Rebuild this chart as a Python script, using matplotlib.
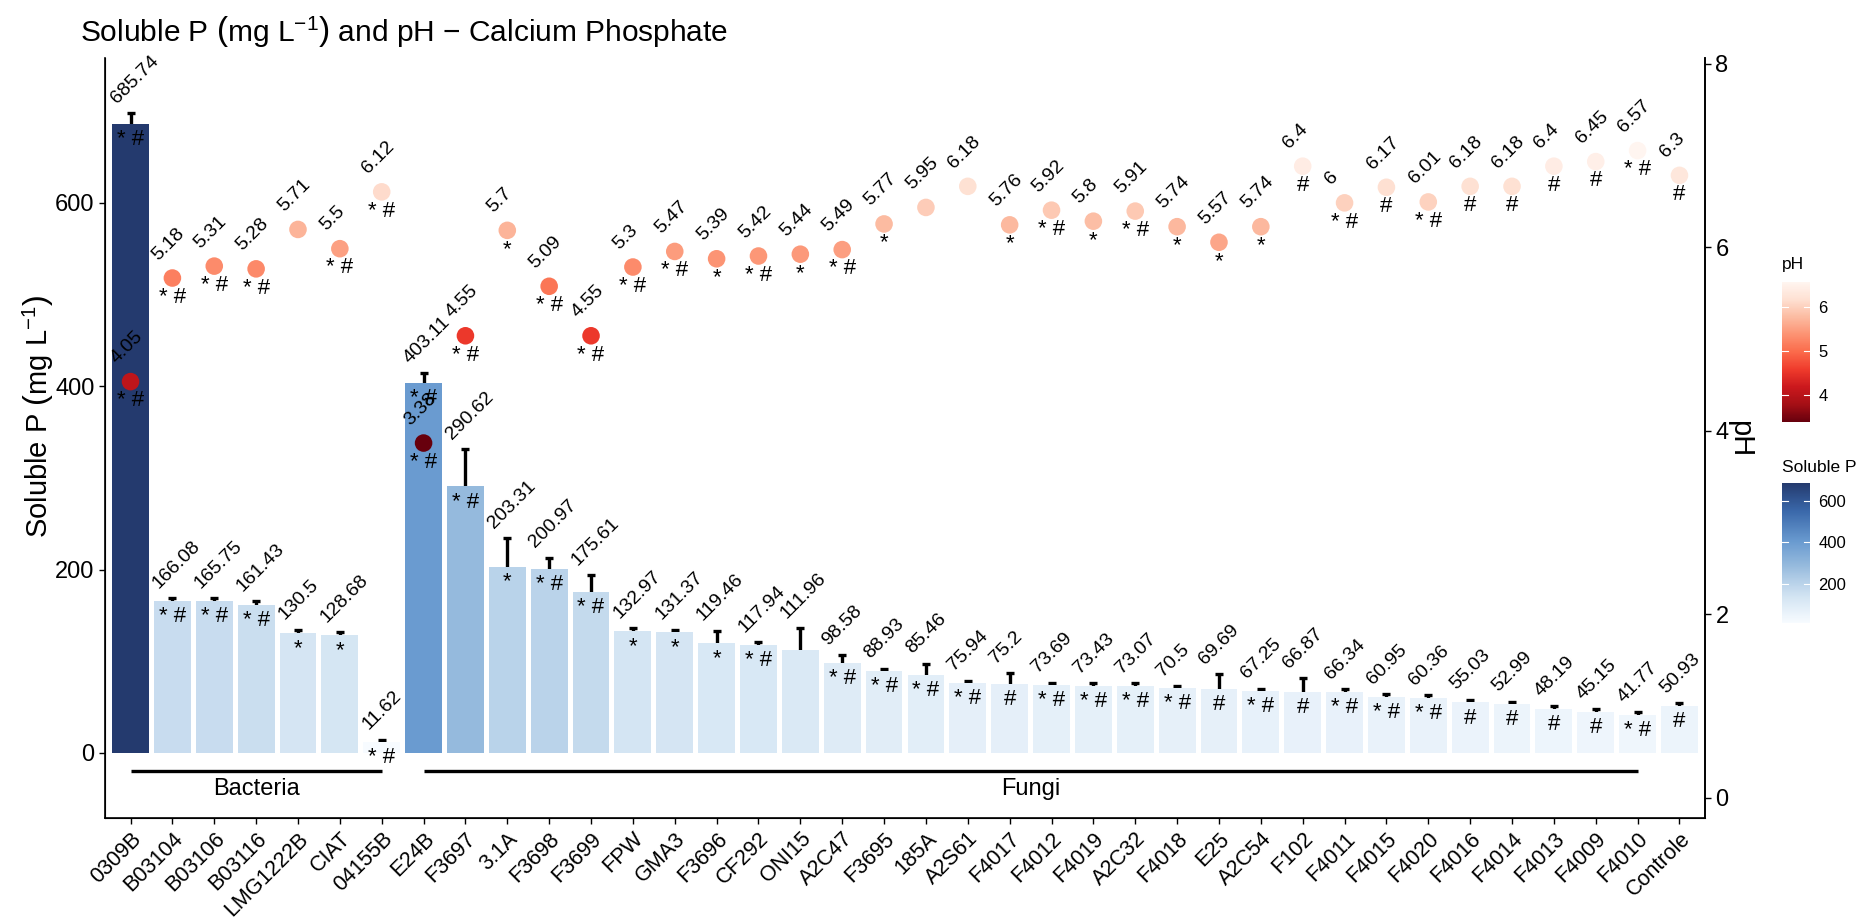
import numpy as np
import matplotlib
matplotlib.use("Agg")
import matplotlib.pyplot as plt
from matplotlib.colors import Normalize, LinearSegmentedColormap
from matplotlib.cm import ScalarMappable

plt.rcParams["font.family"] = ["Liberation Sans", "DejaVu Sans"]
plt.rcParams["mathtext.fontset"] = "custom"
plt.rcParams["mathtext.rm"] = "Liberation Sans"
plt.rcParams["mathtext.it"] = "Liberation Sans:italic"

strains = ["0309B", "B03104", "B03106", "B03116", "LMG1222B", "CIAT", "04155B",
           "E24B", "F3697", "3.1A", "F3698", "F3699", "FPW", "GMA3", "F3696",
           "CF292", "ONI15", "A2C47", "F3695", "185A", "A2S61", "F4017", "F4012",
           "F4019", "A2C32", "F4018", "E25", "A2C54", "F102", "F4011", "F4015",
           "F4020", "F4016", "F4014", "F4013", "F4009", "F4010", "Controle"]

soluble_p = [685.74, 166.08, 165.75, 161.43, 130.5, 128.68, 11.62,
             403.11, 290.62, 203.31, 200.97, 175.61, 132.97, 131.37, 119.46,
             117.94, 111.96, 98.58, 88.93, 85.46, 75.94, 75.2, 73.69,
             73.43, 73.07, 70.5, 69.69, 67.25, 66.87, 66.34, 60.95,
             60.36, 55.03, 52.99, 48.19, 45.15, 41.77, 50.93]

# standard deviations
soluble_p_sd = [12, 3, 3, 4, 4, 3, 3,
                11, 41, 31, 12, 18, 3, 3, 14,
                3, 24, 8, 3, 12, 3, 12, 3,
                3, 3, 2, 16, 3, 15, 3, 3,
                3, 3, 3, 3, 3, 3, 3]

ph = [4.05, 5.18, 5.31, 5.28, 5.71, 5.5, 6.12,
      3.38, 4.55, 5.7, 5.09, 4.55, 5.3, 5.47, 5.39,
      5.42, 5.44, 5.49, 5.77, 5.95, 6.18, 5.76, 5.92,
      5.8, 5.91, 5.74, 5.57, 5.74, 6.4, 6, 6.17,
      6.01, 6.18, 6.18, 6.4, 6.45, 6.57, 6.3]

p_flags = ["* #", "* #", "* #", "* #", "*", "*", "* #",
           "* #", "* #", "*", "* #", "* #", "*", "*", "*",
           "* #", "", "* #", "* #", "* #", "* #", "#", "* #",
           "* #", "* #", "* #", "#", "* #", "#", "* #", "* #",
           "* #", "#", "#", "#", "#", "* #", "#"]

ph_flags = ["* #", "* #", "* #", "* #", "", "* #", "* #",
            "* #", "* #", "*", "* #", "* #", "* #", "* #", "*",
            "* #", "*", "* #", "*", "", "", "*", "* #",
            "*", "* #", "*", "*", "*", "#", "* #", "#",
            "* #", "#", "#", "#", "#", "* #", "#"]

groups = [("Bacteria", "0309B", "04155B"), ("Fungi", "E24B", "F4010")]

W, H = 1870, 923
fig = plt.figure(figsize=(W / 100, H / 100), dpi=100)
ax = fig.add_axes([105 / W, 1 - 818 / H, 1600 / W, 760 / H])

x = np.arange(len(strains))
p = np.array(soluble_p)
sd = np.array(soluble_p_sd)
phv = np.array(ph)

p_norm = Normalize(min(soluble_p), max(soluble_p))
ph_norm = Normalize(min(ph), max(ph))
# muted blue gradient like the ggplot fill scale
blues = LinearSegmentedColormap.from_list(
    "sol_p", [(0.0, "#f7fbff"), (0.18, "#d4e5f3"), (0.28, "#bad3ea"),
              (0.42, "#93b8dc"), (0.58, "#6a9bd0"), (0.8, "#3a68aa"),
              (1.0, "#243a6e")])
reds = plt.get_cmap("Reds_r")

ax.errorbar(x, p, yerr=sd, fmt="none", ecolor="black", elinewidth=2.4,
            capsize=3, capthick=2.4, zorder=1)
ax.bar(x, p, width=0.88, color=blues(p_norm(p)), zorder=2)
ax.scatter(x, phv * 100, s=160, c=phv, cmap=reds, norm=ph_norm,
           edgecolors="none", zorder=4)

for i in range(len(strains)):
    ax.text(x[i] - 0.26, p[i] + sd[i] + 7, f"{p[i]:g}", rotation=45,
            rotation_mode="anchor", ha="left", va="bottom", fontsize=14, zorder=5)
    if p_flags[i]:
        ax.text(x[i], p[i] - 17, p_flags[i], ha="center", va="center",
                fontsize=16, zorder=5)
    ax.text(x[i] - 0.26, phv[i] * 100 + 16, f"{phv[i]:g}", rotation=45,
            rotation_mode="anchor", ha="left", va="bottom", fontsize=14, zorder=5)
    if ph_flags[i]:
        ax.text(x[i], phv[i] * 100 - 21, ph_flags[i], ha="center", va="center",
                fontsize=16, zorder=5)

for name, first, last in groups:
    a, b = strains.index(first), strains.index(last)
    ax.plot([a, b], [-20, -20], color="black", lw=2.4, solid_capstyle="butt")
    ax.text((a + b) / 2, -39, name, ha="center", va="center", fontsize=17)

ax.set_xlim(-0.61, 37.61)
ax.set_ylim(-71, 758)
ax.set_yticks([0, 200, 400, 600])
ax.set_xticks(x)
ax.set_xticklabels(strains, rotation=45, ha="right", rotation_mode="anchor", fontsize=15.5)
ax.tick_params(axis="y", labelsize=17, length=4, width=1)
ax.tick_params(axis="x", length=4, width=1)
ax.spines["top"].set_visible(False)
for s in ("left", "bottom", "right"):
    ax.spines[s].set_linewidth(1.2)

ax2 = ax.twinx()
ax2.set_ylim(-0.218, 8.06)
ax2.set_yticks([0, 2, 4, 6, 8])
ax2.tick_params(axis="y", labelsize=17, length=4, width=1)
ax2.spines["top"].set_visible(False)
ax2.spines["right"].set_linewidth(1.2)

fig.text(80 / W, 1 - 32 / H,
         r"Soluble P $\left(\mathrm{mg\ L^{-1}}\right)$ and pH − Calcium Phosphate",
         ha="left", va="center", fontsize=21.5)
fig.text(38 / W, 1 - 416 / H, r"Soluble P $\left(\mathrm{mg\ L^{-1}}\right)$",
         rotation=90, ha="center", va="center", fontsize=21)
fig.text(1740 / W, 1 - 439 / H, "pH", rotation=270, ha="center", va="center", fontsize=21)

# colour bar legends
legends = [("pH", reds, ph_norm, [4, 5, 6], 265, 282),
           ("Soluble P", blues, p_norm, [200, 400, 600], 467, 483)]
for title, cmap, norm, ticks, ty, top in legends:
    cax = fig.add_axes([1782 / W, 1 - (top + 140) / H, 28 / W, 140 / H])
    cb = fig.colorbar(ScalarMappable(norm=norm, cmap=cmap), cax=cax, ticks=ticks)
    cb.outline.set_visible(False)
    cax.tick_params(length=0, labelsize=12, pad=6)
    for t in ticks:
        cax.axhline(t, xmin=0, xmax=0.2, color="white", lw=0.8)
        cax.axhline(t, xmin=0.8, xmax=1, color="white", lw=0.8)
    fig.text(1782 / W, 1 - ty / H, title, ha="left", va="center", fontsize=12.5)

fig.savefig("out.png", dpi=100, facecolor="white")
